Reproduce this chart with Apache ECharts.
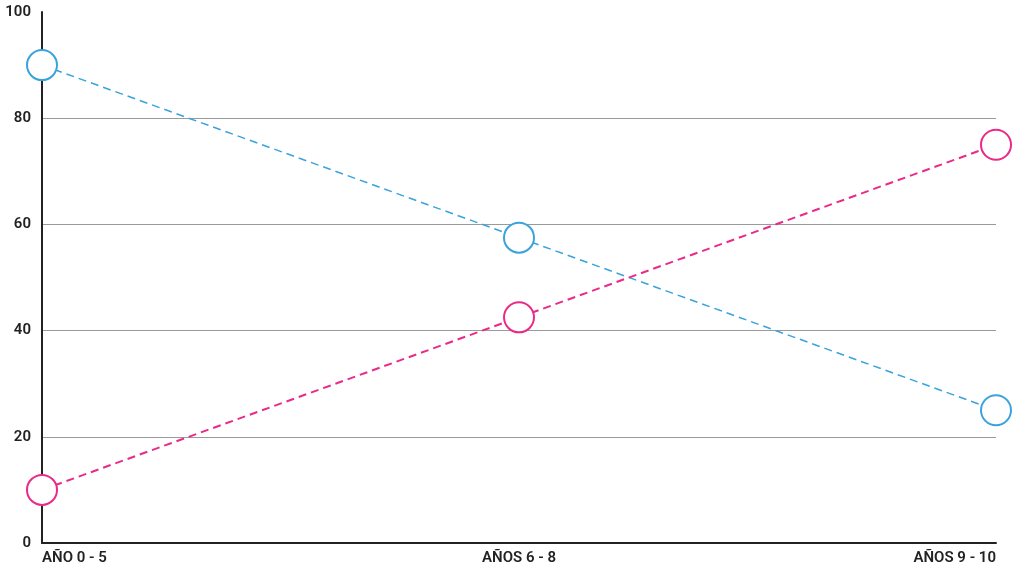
<!DOCTYPE html>
<html>
<head>
<meta charset="utf-8">
<script src="https://cdn.jsdelivr.net/npm/echarts@6/dist/echarts.min.js"></script>
<style>
  html, body { margin: 0; padding: 0; background: #fff; }
  #chart { width: 1018px; height: 570px; }
</style>
</head>
<body>
<div id="chart"></div>
<script>
// Age-band categories and the two series plotted over them
const categories = ['AÑO 0 - 5', 'AÑOS 6 - 8', 'AÑOS 9 - 10'];
const blueValues = [90, 57.5, 25];
const pinkValues = [10, 42.5, 75];
const yTicks = [0, 20, 40, 60, 80, 100];

const font = 'Roboto';
const blue = '#3aa2dc';
const pink = '#ea2a88';
const chart = echarts.init(document.getElementById('chart'));

chart.setOption({
  animation: false,
  grid: { left: 42, right: 22, top: 12, bottom: 27, containLabel: false },
  xAxis: {
    type: 'category',
    data: categories,
    boundaryGap: false,
    axisLine: { lineStyle: { color: '#222', width: 2 } },
    axisTick: { show: false },
    axisLabel: {
      color: '#222', fontFamily: font, fontWeight: 600, fontSize: 15,
      margin: 8, alignMinLabel: 'left', alignMaxLabel: 'right', interval: 0
    },
    splitLine: { show: false }
  },
  yAxis: {
    type: 'value',
    min: yTicks[0],
    max: yTicks[yTicks.length - 1],
    interval: 20,
    axisLine: { show: true, lineStyle: { color: '#222', width: 2 } },
    axisTick: { show: false },
    axisLabel: {
      color: '#222', fontFamily: font, fontWeight: 600, fontSize: 15,
      margin: 11
    },
    splitLine: {
      show: true,
      lineStyle: { color: '#9a9a9a', width: 1 },
      showMaxLine: false
    }
  },
  series: [
    {
      type: 'line',
      data: blueValues,
      clip: false,
      symbol: 'emptyCircle',
      symbolSize: 30,
      lineStyle: { color: blue, width: 1.5, type: [8, 5] },
      itemStyle: { color: blue, borderColor: blue, borderWidth: 2 },
      z: 3
    },
    {
      type: 'line',
      data: pinkValues,
      clip: false,
      symbol: 'emptyCircle',
      symbolSize: 30,
      lineStyle: { color: pink, width: 2, type: [8, 5] },
      itemStyle: { color: pink, borderColor: pink, borderWidth: 2 },
      z: 3
    }
  ]
});
</script>
</body>
</html>
